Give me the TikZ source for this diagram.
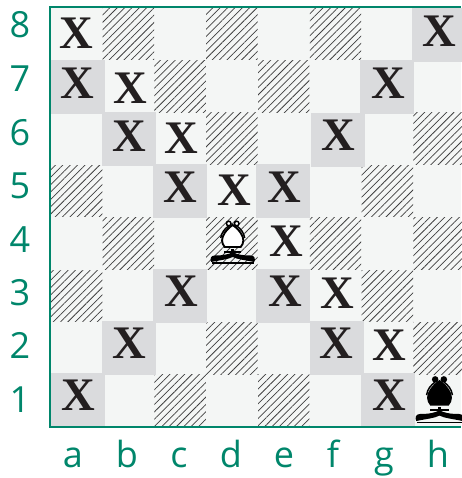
\documentclass[tikz,border=0pt]{standalone}
\usepackage{fontspec}
\setmainfont{Open Sans}
\newfontfamily\xfont{Liberation Serif}
\usetikzlibrary{patterns.meta}
\definecolor{boardteal}{HTML}{00866B}
\definecolor{lightsq}{HTML}{F4F6F5}
\definecolor{greysq}{HTML}{DADBDD}
\definecolor{xblack}{HTML}{231F20}
\tikzset{
    ranklabel/.style={font=\fontsize{27}{27}\selectfont, text=boardteal, anchor=base, inner sep=0pt},
    filelabel/.style={font=\fontsize{27}{27}\selectfont, text=boardteal, anchor=base, inner sep=0pt},
    xmark/.style={font=\xfont\bfseries\fontsize{35}{35}\selectfont, text=xblack, inner sep=0pt},
    hatchsq/.style={pattern={Lines[angle=45,distance=3.9pt,line width=0.55pt]}, pattern color=black!75},
    pics/bishop/.style 2 args={code={
        % foot
        \fill[black] (-21.5,0) .. controls (-23,-3) and (-22,-6.5) .. (-18,-6.5) .. controls (-10,-6.5) and (-4,-7.5) .. (0,-10)
            .. controls (4,-7.5) and (10,-6.5) .. (18,-6.5) .. controls (22,-6.5) and (23,-3) .. (21.5,0)
            .. controls (12,-2) and (5,-2.5) .. (0,-5) .. controls (-5,-2.5) and (-12,-2) .. (-21.5,0) -- cycle;
        \draw[black, line width=0.8pt] (-21,1) -- (21,1);
        % collar
        \fill[black] (-8.5,-9.5) rectangle (8.5,-11.5);
        \fill[black] (-1.6,-11) rectangle (1.6,-13);
        % mitre
        \filldraw[draw=black, fill=#1, line width=1.4pt] (-8,-15) .. controls (-11.5,-19) and (-11.5,-24) .. (-8,-29)
            .. controls (-6,-32) and (-3,-35) .. (0,-37) .. controls (3,-35) and (6,-32) .. (8,-29)
            .. controls (11.5,-24) and (11.5,-19) .. (8,-15) -- cycle;
        % ears
        \draw[black, line width=1.1pt] (-4.2,-36) .. controls (-8,-33) and (-11,-30) .. (-12,-24);
        \draw[black, line width=1.1pt] (4.2,-36) .. controls (8,-33) and (11,-30) .. (12,-24);
        % knobs
        \filldraw[draw=black, fill=#2, line width=1.1pt] (-4,-38.5) circle (2.3);
        \filldraw[draw=black, fill=#2, line width=1.1pt] (4,-38.5) circle (2.3);
    }}
}
\begin{document}
\begin{tikzpicture}[x=0.75pt,y=-0.75pt]
    \useasboundingbox (0,0) rectangle (461,478);
    % board
    \fill[lightsq] (51,8) rectangle (461,426);
    % hatched squares
    \foreach \cx/\cy in {102.6/8,206.2/8,309.8/8,154.4/60.4,258/60.4,206.2/112.8,413.4/112.8,51/165.2,361.6/165.2,
                         102.6/217.6,206.2/217.6,309.8/217.6,413.4/217.6,51/270,361.6/270,206.2/322.4,413.4/322.4,154.4/374.8,258/374.8}
        \fill[hatchsq] (\cx,\cy) rectangle ++(51.4,51.6);
    % grey squares on the bishop's lines
    \foreach \cx/\cy in {51/60,102/112,153/164,256/164,311/113,360/60,412/8,153/269,256/269,102/321,310/321,51/373,361/373}
        \fill[greysq] (\cx,\cy) rectangle ++(54,54);
    % frame
    \draw[boardteal, line width=1.9pt] (461,7) -- (50,7) -- (50,427) -- (461,427);
    % marks
    \foreach \nm/\px/\py in {a8/76/33,a7/77/83,b7/130/88,b6/129/136,c6/181/138,c5/180/187,d5/234/190,e5/284/187,f6/338/135,g7/388/83,h8/439/31,
                             e4/286/241,c3/181/291,e3/285/291,f3/337/293,b2/129/343,f2/336/343,g2/389/345,a1/78/395,g1/389/395}
        \node[xmark] (x\nm) at (\px,\py) {X};
    % pieces
    \pic at (232.7,262) {bishop={white}{white}};
    \pic[scale=1.08] at (439.5,421) {bishop={black}{black}};
    % rank labels
    \foreach \r/\ry in {8/38,7/92,6/145,5/198,4/252,3/305,2/358,1/412}
        \node[ranklabel] (rank\r) at (20,\ry) {\r};
    % file labels
    \foreach \f/\fx in {a/73,b/127,c/179,d/231,e/284,f/333,g/384,h/438}
        \node[filelabel] (file\f) at (\fx,467) {\f};
\end{tikzpicture}
\end{document}
